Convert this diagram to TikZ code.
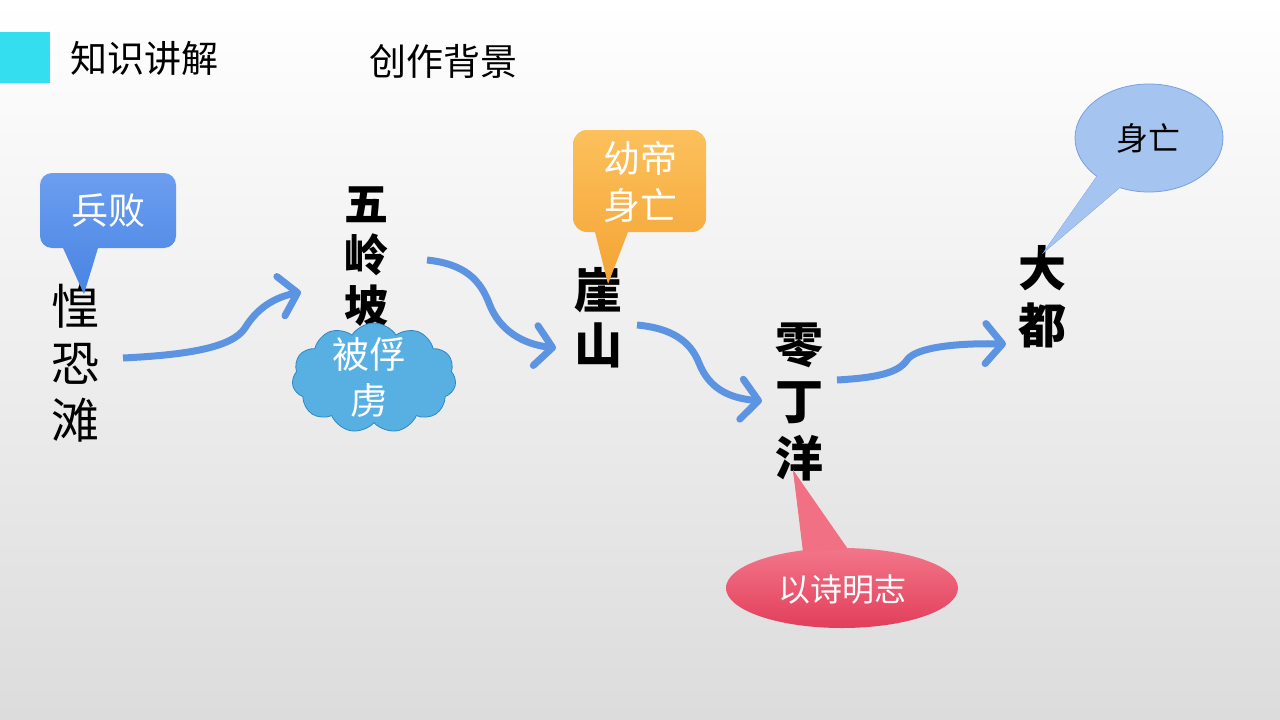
\documentclass[tikz,border=0pt]{standalone}
\usepackage{fontspec}
\setmainfont{Noto Sans CJK SC}
\usetikzlibrary{shapes.symbols,arrows.meta}
\definecolor{bgbot}{RGB}{220,220,220}
\definecolor{cyanbar}{RGB}{52,222,238}
\definecolor{arrowblue}{RGB}{92,148,226}
\definecolor{blueTop}{RGB}{108,158,240}
\definecolor{blueBot}{RGB}{72,132,226}
\definecolor{orTop}{RGB}{252,192,92}
\definecolor{orBot}{RGB}{244,164,52}
\definecolor{redTop}{RGB}{243,118,138}
\definecolor{redBot}{RGB}{226,62,90}
\definecolor{redTri}{RGB}{241,112,132}
\definecolor{cloudFill}{RGB}{88,176,226}
\definecolor{cloudLine}{RGB}{45,135,195}
\definecolor{balFill}{RGB}{166,196,240}
\definecolor{balLine}{RGB}{120,160,226}
\tikzset{
  place/.style={align=center, inner sep=0pt, text=black, font=\fontsize{48}{57}\selectfont\bfseries},
  placereg/.style={align=center, inner sep=0pt, text=black, font=\fontsize{48}{57}\selectfont},
  tagtext/.style={align=center, inner sep=0pt, text=white},
  flow/.style={draw=arrowblue, line width=7pt, -{Straight Barb[length=17pt,width=40pt,line width=7pt,round]}},
  title/.style={inner sep=0pt, text=black, font=\fontsize{37}{40}\selectfont}
}
\begin{document}
\begin{tikzpicture}[x=1pt,y=-1pt]
\useasboundingbox (0,0) rectangle (1280,720);
\shade[top color=white, bottom color=bgbot] (0,0) rectangle (1280,720);
% header
\fill[cyanbar] (0,32) rectangle (50,83);
\node[title] (t1) at (144,58) {知识讲解};
\node[title] (t2) at (443,61) {创作背景};
% places
\node[placereg] (hks) at (75,363) {惶\\恐\\滩};
\node[place, font=\fontsize{44}{51}\selectfont\bfseries] (wlp) at (366,257) {五\\岭\\坡};
\node[place, font=\fontsize{48}{55}\selectfont\bfseries] (ys) at (598,318) {崖\\山};
\node[place] (ldy) at (799,402) {零\\丁\\洋};
\node[place] (dd) at (1042,297) {大\\都};
% arrow end points
\coordinate (a1s) at (123,358);
\coordinate (a1e) at (301,292);
\coordinate (a2s) at (427,260);
\coordinate (a2e) at (556,348);
\coordinate (a3s) at (637,325);
\coordinate (a3e) at (762,401);
\coordinate (a4s) at (837,380);
\coordinate (a4e) at (1006,344);
\draw[flow] (a1s) .. controls (185,355) and (232,348) .. (245,328) .. controls (256,310) and (272,298) .. (a1e);
\draw[flow] (a2s) .. controls (465,264) and (480,280) .. (489,303) .. controls (499,330) and (522,344) .. (a2e);
\draw[flow] (a3s) .. controls (670,328) and (690,340) .. (699,363) .. controls (709,388) and (728,398) .. (a3e);
\draw[flow] (a4s) .. controls (872,378) and (898,374) .. (907,360) .. controls (916,347) and (958,343) .. (a4e);
% callout: 兵败
\coordinate (p1) at (84,294);
\path[top color=blueTop, bottom color=blueBot] (p1) -- (98,248) [rounded corners=12pt] -- (176,248) -- (176,173) -- (40,173) -- (40,248) [sharp corners] -- (63,248) -- cycle;
\node[tagtext, font=\fontsize{37}{40}\selectfont] (bb) at (108,211) {兵败};
% callout: 幼帝身亡
\coordinate (p2) at (608,284);
\path[top color=orTop, bottom color=orBot] (p2) -- (628,232) [rounded corners=14pt] -- (706,232) -- (706,130) -- (573,130) -- (573,232) [sharp corners] -- (595,232) -- cycle;
\node[tagtext, font=\fontsize{37}{47}\selectfont] (ydsw) at (640,182) {幼帝\\身亡};
% cloud
\node[cloud, cloud puffs=11, cloud puff arc=115, aspect=1.5, draw=cloudLine, fill=cloudFill, line width=0.8pt, minimum width=164pt, minimum height=110pt, inner sep=0pt] (cl) at (374,378) {};
\node[tagtext, font=\fontsize{37}{46}\selectfont] (bfl) at (369,377) {被俘\\虏};
% ellipse: 以诗明志
\coordinate (p3) at (793,470);
\fill[redTri] (p3) -- (805,556) -- (850,552) -- cycle;
\path[top color=redTop, bottom color=redBot] (842,588) ellipse [x radius=116, y radius=40];
\fill[redTri] (p3) -- (803,552) -- (846,550) -- cycle;
\node[tagtext, font=\fontsize{32}{36}\selectfont] (ysmz) at (842,589) {以诗明志};
% balloon: 身亡
\coordinate (p4) at (1044,252);
\filldraw[fill=balFill, draw=balLine, line width=0.8pt] (p4) -- (1100,172) -- (1125,183) -- cycle;
\filldraw[fill=balFill, draw=balLine, line width=0.8pt] (1149,138) ellipse [x radius=74, y radius=54];
\fill[balFill] (p4) -- (1100,172) -- (1125,183) -- cycle;
\node[inner sep=0pt, text=black, font=\fontsize{32}{36}\selectfont] (sw) at (1148,138) {身亡};
\end{tikzpicture}
\end{document}
